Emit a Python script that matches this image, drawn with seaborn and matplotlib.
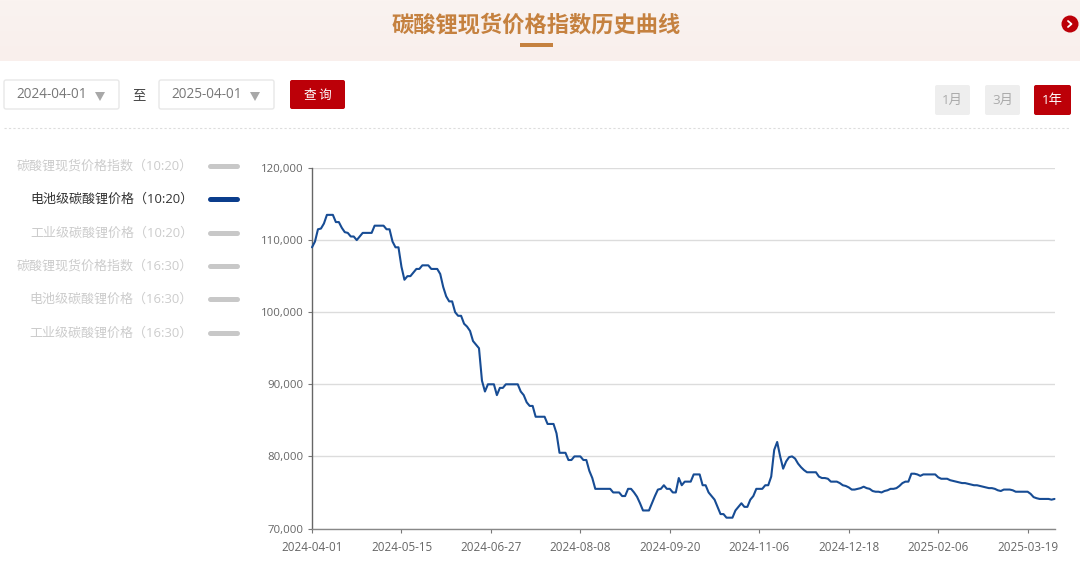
import numpy as np
import pandas as pd
import matplotlib
matplotlib.use('Agg')
import matplotlib.pyplot as plt
from matplotlib.patches import FancyBboxPatch, Circle, Polygon, Rectangle
import seaborn as sns

# battery grade price, one value per trading day
prices = [
    109000, 109800, 111500, 111600, 112300, 113500, 113500, 113500, 112500, 112500,
    111700, 111100, 111000, 110500, 110500, 110000, 110500, 111000, 111000, 111000,
    111000, 112000, 112000, 112000, 112000, 111500, 111500, 109800, 109000, 109000,
    106300, 104500, 105000, 105000, 105500, 106000, 106000, 106500, 106500, 106500,
    106000, 106000, 106000, 105300, 103500, 102200, 101500, 101500, 100000, 99500,
    99500, 98400, 98000, 97400, 96000, 95500, 95000, 90500, 89000, 90000,
    90000, 90000, 88500, 89500, 89500, 90000, 90000, 90000, 90000, 90000,
    89000, 88500, 87500, 87000, 87000, 85500, 85500, 85500, 85500, 84500,
    84500, 84500, 83200, 80500, 80500, 80500, 79500, 79500, 80000, 80000,
    80000, 79500, 79500, 78000, 77000, 75500, 75500, 75500, 75500, 75500,
    75500, 75000, 75000, 75000, 74500, 74500, 75500, 75500, 75000, 74400,
    73500, 72500, 72500, 72500, 73500, 74500, 75400, 75500, 76000, 75500,
    75500, 75000, 75000, 77000, 76000, 76500, 76500, 76500, 77500, 77500,
    77500, 76000, 76000, 75000, 74500, 74000, 73000, 72000, 72000, 71500,
    71500, 71500, 72500, 73000, 73500, 73000, 73000, 74000, 74500, 75500,
    75500, 75500, 76000, 76000, 77200, 80900, 82000, 80000, 78300, 79300,
    79900, 80000, 79700, 79000, 78500, 78100, 77800, 77800, 77800, 77800,
    77200, 77000, 77000, 76900, 76500, 76500, 76500, 76300, 76000, 75900,
    75700, 75400, 75400, 75500, 75600, 75800, 75600, 75500, 75200, 75100,
    75100, 75000, 75200, 75300, 75500, 75500, 75600, 75900, 76300, 76500,
    76500, 77600, 77600, 77500, 77300, 77500, 77500, 77500, 77500, 77500,
    77100, 76900, 76900, 76900, 76700, 76600, 76500, 76400, 76300, 76300,
    76200, 76100, 76000, 76000, 75900, 75800, 75700, 75600, 75600, 75500,
    75300, 75200, 75400, 75400, 75400, 75300, 75100, 75100, 75100, 75100,
    75100, 74800, 74350, 74200, 74100, 74100, 74100, 74100, 74000, 74100,
]
date_labels = ['2024-04-01', '2024-05-15', '2024-06-27', '2024-08-08', '2024-09-20',
               '2024-11-06', '2024-12-18', '2025-02-06', '2025-03-19']
y_ticks = [70000, 80000, 90000, 100000, 110000, 120000]
legend_names = ['碳酸锂现货价格指数（10:20）', '电池级碳酸锂价格（10:20）', '工业级碳酸锂价格（10:20）',
                '碳酸锂现货价格指数（16:30）', '电池级碳酸锂价格（16:30）', '工业级碳酸锂价格（16:30）']
legend_active = [False, True, False, False, False, False]

W, H = 1080, 573
RED = '#bc0008'

sns.set_theme(style='white')
plt.rcParams['font.family'] = ['Open Sans', 'Noto Sans CJK SC', 'DejaVu Sans']
CJK_FONT = ['Noto Sans CJK SC', 'DejaVu Sans']

fig = plt.figure(figsize=(W / 100, H / 100), dpi=100)

# page furniture lives on an overlay in pixel coordinates
page = fig.add_axes([0, 0, 1, 1])
page.set_xlim(0, W)
page.set_ylim(H, 0)
page.axis('off')

gradient = np.linspace(0, 1, 61)[:, None, None] * (np.array([249, 239, 236]) - np.array([250, 243, 240])) + np.array([250, 243, 240])
page.imshow(gradient / 255, extent=[0, W, 61, 0], aspect='auto', zorder=0)
page.set_xlim(0, W)
page.set_ylim(H, 0)

page.text(536.5, 25, '碳酸锂现货价格指数历史曲线', color='#c5813f', fontsize=16, fontweight='bold',
          ha='center', va='center', family=CJK_FONT)
page.add_patch(Rectangle((520, 43), 33, 3.5, color='#c5813f', lw=0))

page.add_patch(Circle((1070, 24), 8.5, color=RED, lw=0))
page.plot([1068, 1071.5, 1068], [21, 24, 27], color='white', lw=1.3)


def box(x0, y0, x1, y1, face, edge='none'):
    page.add_patch(FancyBboxPatch((x0 + 2, y0 + 2), x1 - x0 - 4, y1 - y0 - 4, boxstyle='round,pad=2',
                                  facecolor=face, edgecolor=edge, lw=1))


for x0, label in [(4, '2024-04-01'), (159, '2025-04-01')]:
    box(x0, 80, x0 + 115, 109, 'white', '#e8e8e8')
    page.text(x0 + 12, 94.5, label, color='#777777', fontsize=9.8, ha='left', va='center')
    page.add_patch(Polygon([[x0 + 91, 92], [x0 + 101, 92], [x0 + 96, 101]], color='#a8a8a8', lw=0))
page.text(139, 95, '至', color='#444444', fontsize=9.6, ha='center', va='center', family=CJK_FONT)

box(290, 80, 345, 109, RED)
page.text(317.5, 95, '查 询', color='white', fontsize=9, ha='center', va='center', family=CJK_FONT)

for x0, x1, label, active in [(935, 970, '1月', False), (985, 1020, '3月', False), (1034, 1071, '1年', True)]:
    box(x0, 85, x1, 115, RED if active else '#eeeeee')
    page.text((x0 + x1) / 2, 100.5, label, color='white' if active else '#aaaaaa', fontsize=9.6,
              ha='center', va='center')

page.plot([4, 1070], [128, 128], color='#dddddd', lw=0.8, dashes=(2, 2))

for y, name, active in zip([166, 199, 233, 266, 299, 333], legend_names, legend_active):
    page.text(193, y + 0.5, name, color='#333333' if active else '#cccccc', fontsize=9.4, ha='right', va='center')
    page.plot([210, 237], [y, y], color='#0b3d8c' if active else '#c8c8c8', lw=3.6, solid_capstyle='round')

# the chart itself
ax = fig.add_axes([312 / W, 1 - 528.5 / H, (1054.5 - 312) / W, (528.5 - 168) / H])
ax.patch.set_alpha(0)
df = pd.DataFrame({'day': np.arange(len(prices)), 'price': prices})
sns.lineplot(data=df, x='day', y='price', color='#174c94', linewidth=1.5, ax=ax, zorder=5, clip_on=False)

ax.set_xlim(0, len(prices) - 1)
ax.set_ylim(y_ticks[0], y_ticks[-1])
ax.set_xticks(df['day'].values[::30], labels=date_labels)
ax.set_yticks(y_ticks, labels=[f'{v:,}' for v in y_ticks])
ax.set_xlabel('')
ax.set_ylabel('')
ax.grid(axis='y', color='#dcdcdc', lw=1)
ax.set_axisbelow(True)
sns.despine(ax=ax, top=True, right=True)
ax.spines['left'].set_color('#666666')
ax.spines['bottom'].set_color('#888888')
ax.spines['left'].set_linewidth(1)
ax.spines['bottom'].set_linewidth(1)
ax.tick_params(axis='both', which='major', length=3, width=0.8, color='#777777', labelcolor='#666666',
               bottom=True, left=True)
ax.tick_params(axis='x', labelsize=8.4, pad=6)
ax.tick_params(axis='y', labelsize=8.2, pad=3)

fig.savefig('out.png', dpi=100)
